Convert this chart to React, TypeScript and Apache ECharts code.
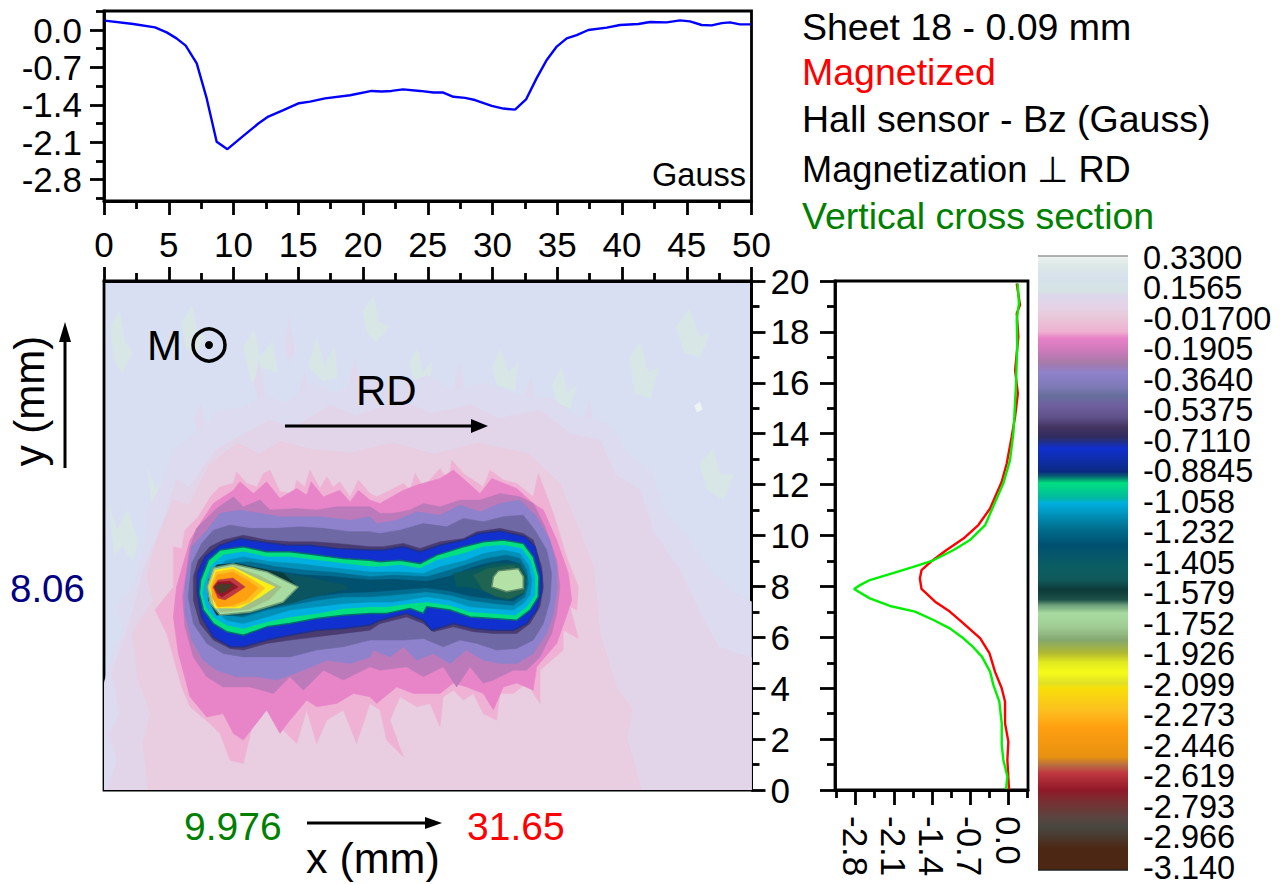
import React, { useEffect, useRef } from "react";
import * as echarts from "echarts";

const FONT = "'Liberation Sans', Arial, sans-serif";

const profileX: [number, number][] = [[0.06,0.175],[2.26,0.112],[3.94,0.05],[4.84,-0.044],[5.6,-0.156],[6.31,-0.293],[7.16,-0.624],[7.93,-1.28],[8.7,-2.09],[9.53,-2.23],[10.76,-1.98],[11.92,-1.75],[12.69,-1.62],[13.85,-1.5],[15.06,-1.37],[15.91,-1.34],[17.07,-1.28],[19,-1.22],[20.67,-1.14],[21.45,-1.15],[22.2,-1.14],[23.1,-1.11],[24.4,-1.14],[25.43,-1.17],[26.2,-1.17],[26.98,-1.25],[27.88,-1.27],[28.65,-1.31],[29.94,-1.42],[30.84,-1.47],[31.74,-1.49],[32.59,-1.3],[33.41,-0.9],[34.19,-0.56],[34.96,-0.31],[35.73,-0.156],[36.5,-0.094],[37.4,0],[38.82,0.044],[39.85,0.094],[41.26,0.112],[42.16,0.15],[43.45,0.144],[44.48,0.18],[45.25,0.162],[46.15,0.094],[46.93,0.087],[47.7,0.13],[48.34,0.144],[49.1,0.106],[49.94,0.106]];

const crossGreen: [number, number][] = [[0.178,19.9],[0.2,19.12],[0.16,18.46],[0.17,17.55],[0.147,15.98],[0.116,14.67],[0.098,14.01],[0.037,12.96],[-0.086,12.05],[-0.3,11],[-0.42,10.41],[-0.7,9.82],[-1,9.43],[-1.4,9],[-1.74,8.77],[-2.1,8.53],[-2.54,8.25],[-2.72,8.05],[-2.83,7.9],[-2.54,7.53],[-2.17,7.23],[-1.71,7.01],[-1.37,6.68],[-1.07,6.35],[-0.82,5.96],[-0.64,5.61],[-0.48,5.24],[-0.33,4.65],[-0.27,4.13],[-0.16,3.47],[-0.116,2.62],[-0.116,1.77],[-0.086,1.18],[-0.012,0.53],[-0.037,0.03]];

const crossRed: [number, number][] = [[0.16,19.9],[0.22,19.05],[0.16,18.73],[0.19,17.8],[0.13,16.5],[0.18,15.58],[0.13,14.67],[0.067,13.88],[-0.024,12.83],[-0.116,12.11],[-0.33,11.06],[-0.545,10.41],[-0.82,9.88],[-1.13,9.43],[-1.4,9],[-1.59,8.64],[-1.62,8.31],[-1.59,7.9],[-1.34,7.4],[-1.07,7.01],[-0.82,6.55],[-0.51,5.96],[-0.34,5.37],[-0.24,4.65],[-0.116,4],[-0.055,3.47],[-0.055,2.62],[0.006,1.9],[-0.012,1.18],[0.018,0.03]];

const colorbarLabels = ["0.3300","0.1565","-0.01700","-0.1905","-0.3640","-0.5375","-0.7110","-0.8845","-1.058","-1.232","-1.405","-1.579","-1.752","-1.926","-2.099","-2.273","-2.446","-2.619","-2.793","-2.966","-3.140"];

const colorbarStops = [0.342,0.29,0.216,0.148,0.12,0.051,-0.006,-0.091,-0.125,-0.205,-0.262,-0.29,-0.324,-0.41,-0.449,-0.506,-0.58,-0.631,-0.688,-0.717,-0.751,-0.887,-0.916,-0.95,-1.035,-1.064,-1.132,-1.206,-1.303,-1.428,-1.502,-1.559,-1.616,-1.644,-1.69,-1.769,-1.843,-1.917,-1.968,-2.031,-2.088,-2.116,-2.241,-2.338,-2.509,-2.554,-2.6,-2.697,-2.753,-2.85,-2.907,-2.981,-3.027,-3.152];
const colorbarColors = ["#EDF3F0","#DCE8E6","#D6E1EC","#D5E4E4","#DCD8EC","#E6D2E6","#E8C8D8","#EEAFD0","#E880C8","#C879B8","#A87AA8","#9C7CB8","#8E82CC","#7C78B4","#66709C","#7060A0","#5E5088","#433460","#302C60","#20308C","#1030D0","#0A2A80","#066C70","#00E080","#00B8A0","#00B0E0","#0090B8","#007090","#005070","#0A5E62","#10585A","#0C3A38","#1E5448","#6A9C78","#A8DCA0","#A0CC94","#84A870","#B0B830","#E0E820","#F8FC18","#E0E028","#F8E008","#FCC020","#FFA010","#E89010","#B87040","#C03840","#901828","#7C2C30","#5C4440","#484840","#4C3428","#4C2814","#4C2814"];

const hazeOuter = [[0,4.2],[0.8,5.6],[1.5,6.2],[1,7.2],[2.4,8.2],[3.2,9.6],[3.4,11],[4.6,12.2],[5.4,13.4],[7.5,14.2],[8.8,14.9],[10.5,15],[12.5,15.5],[14,15.2],[16,16],[18,15.6],[20,16.2],[22.5,15.8],[25,16.3],[27,15.7],[29.5,16],[32,15.5],[34.5,15.4],[36.5,14.7],[39,14.4],[40.5,13.2],[42.3,12.5],[43.2,11],[45,10],[46.5,8.8],[48.5,7.8],[50,7.4],[50,0],[0,0]];
const haze = [[0.3,0],[1,1.2],[0.4,2.2],[1.2,3],[0.6,4.6],[2,6.6],[3,8.6],[4.6,10.6],[5.6,12.2],[6.6,11.9],[8.6,13.36],[10.5,13.9],[12.8,14.54],[14.5,14.2],[17.5,15.13],[19.5,14.7],[22.9,15.32],[25.2,14.8],[28.3,15.13],[30.5,14.6],[33.7,14.93],[36,14],[38.3,13.75],[39.5,12.4],[41.4,11.79],[42.4,10.2],[44.5,8.6],[46,7],[47.5,5.6],[50,5.2],[50,0]];
const pale = [[5.3,11.39],[6.6,11.2],[8.2,12.85],[10.3,13.63],[12,13.2],[13.6,13.7],[15.9,13.4],[19,13.25],[22.3,13.63],[25.5,13.2],[28.8,13.63],[32.7,13.24],[35.2,12.06],[36.8,10.1],[37.8,8.76],[38.3,6.17],[39.6,4],[40.8,3.2],[40.4,2],[41.5,0],[3.4,0],[3,1.8],[3.6,3],[2.6,4.4],[2.2,6.17],[3.8,7.47],[3.3,8.4],[3.8,9.43]];
const pinkFringe = [[5.35,9.56],[6,9.49],[6.25,10.21],[7.28,10.74],[8.31,11.59],[8.96,11.91],[9.99,12.05],[10.24,12.5],[11,12.05],[11.8,11.91],[12.3,12.44],[12.82,12.57],[13.59,11.72],[14.62,11.65],[14.88,12.18],[15.5,11.91],[15.9,12.57],[16.68,11.85],[17.2,12.31],[17.7,11.91],[18.2,12.11],[19,11.52],[19.64,12.18],[20.54,11.65],[21.06,11.52],[22.09,11.78],[23.12,12.05],[23.63,11.78],[24.02,12.44],[24.66,11.91],[25.95,12.63],[26.59,12.18],[26.85,12.96],[27.75,12.44],[29.29,11.91],[29.81,12.57],[30.84,12.18],[31.87,12.05],[33.15,11.52],[33.54,12.44],[34.7,10.87],[35.73,9.16],[36.63,7.98],[36.5,7.07],[35.99,7.2],[36.63,5.95],[35.47,6.28],[35.47,5.5],[33.67,4.71],[33.67,3.4],[32.64,4.2],[31.61,3.79],[30.58,3.79],[30.32,2.74],[29.29,3],[28.52,3.79],[27.75,3.53],[26.98,3.92],[26.2,3.66],[25.95,2.48],[25.18,3.4],[24.15,3.27],[22.86,3.66],[22.09,2.74],[23.12,1.3],[21.83,1.96],[21.31,3.14],[20.54,3.4],[19.5,1.83],[18.48,3.14],[17.2,2.74],[16.42,1.83],[15.65,3.14],[14.88,1.83],[13.85,2.35],[13.08,3.27],[11.8,3.27],[10.76,1.04],[9.73,1.17],[8.96,2.22],[8.18,2.61],[6.64,3.27],[6,4.05],[4.84,6.15],[3.94,7.07],[5.35,7.98]];
const pinkBright = [[6.64,9.82],[7.41,10.47],[8.44,11.26],[9.99,11.78],[10.5,12.11],[11.53,11.65],[12.56,12.11],[13.59,11.46],[14.88,11.85],[15.65,11.59],[16,12.11],[16.94,11.52],[18.2,11.78],[19,11.32],[19.64,11.78],[20.54,11.39],[21.31,11.26],[23.12,11.78],[24.15,11.98],[25.95,12.24],[26.98,12.57],[29.04,11.65],[29.94,12.24],[31.87,11.85],[33.15,11.26],[33.93,11],[34.96,9.82],[35.86,8.51],[36.12,7.46],[35.6,6.67],[34.96,5.76],[33.41,4.84],[33.15,3.92],[31.87,4.2],[30.84,4.05],[30.07,3.14],[29.29,3.79],[28,4.05],[26.98,4.2],[25.95,3.79],[25.18,3.79],[23.89,3.79],[22.6,4.05],[21.06,3.4],[20.54,3.66],[19.27,3.79],[17.97,3.4],[16.42,3.27],[15.65,3.53],[14.36,2.74],[13.59,2.22],[12.56,3.14],[10.76,1.96],[9.99,2.22],[9.2,3],[7.93,2.87],[6.64,3.66],[5.74,5.36],[5.35,6.8],[5.6,7.98]];
const mauve = [[6.07,7.59],[6.64,9.56],[7.15,10.28],[8.7,11.06],[9.99,11.52],[10.76,11.13],[12.05,11.39],[12.82,11],[14.88,11.06],[16.42,11],[17.97,11.13],[20.54,11.13],[21.31,10.87],[22.34,10.87],[23.63,11],[24.66,11.26],[25.95,11.13],[27.49,11.39],[29.04,11.39],[30.58,11.65],[32.12,11.52],[33.15,11.26],[34.06,10.34],[34.96,9.03],[35.21,7.98],[34.96,6.94],[34.57,6.15],[33.67,5.23],[32.64,4.71],[31.61,4.71],[30.07,4.32],[29.29,4.2],[28.26,4.84],[27.23,4.05],[26.2,4.84],[24.66,4.45],[23.37,4.84],[21.31,4.71],[20.54,4.84],[18.48,4.32],[16.94,4.71],[15.39,3.92],[14.36,4.45],[13.08,3.79],[11.27,4.05],[9.2,4.05],[7.93,4.45],[6.9,5.23],[6.25,6.41]];
const lavender = [[6.25,7.98],[6.77,9.56],[7.93,10.21],[8.96,10.87],[10.5,11],[12.05,10.87],[13.59,10.74],[15.13,10.74],[16.68,10.74],[19,10.6],[20.54,10.74],[21.06,10.47],[22.6,10.6],[24.15,10.93],[25.95,10.8],[27.49,11.19],[29.04,10.93],[30.58,11.26],[32.12,11.39],[33.41,10.74],[34.44,9.82],[34.96,8.77],[34.96,7.85],[34.7,6.94],[34.18,6.15],[33.15,5.36],[31.87,4.97],[30.58,4.97],[29.29,5.1],[28,5.5],[26.72,4.97],[25.43,5.36],[24.15,5.1],[23.12,5.63],[22.09,5.23],[20.8,5.5],[20.54,5.23],[19,4.97],[17.2,5.1],[15.39,4.71],[13.33,4.32],[11.8,4.45],[10.24,4.45],[8.7,4.71],[7.67,5.1],[6.77,5.89],[6.25,6.94]];
const slate = [[6.5,7.59],[6.77,8.9],[7.54,9.69],[8.44,10.21],[9.73,10.41],[11.27,10.28],[13.33,10.28],[15.13,10.34],[16.94,10.28],[19,10.15],[20.54,10.15],[21.31,10.08],[22.86,10.21],[24.66,10.47],[26.46,10.34],[27.75,10.67],[29.29,10.54],[30.84,10.74],[32.38,10.8],[33.28,10.21],[34.18,9.43],[34.57,8.51],[34.44,7.46],[33.93,6.54],[33.15,5.89],[31.87,5.56],[30.32,5.5],[28.78,5.76],[27.49,5.89],[26.2,5.63],[24.66,5.95],[23.12,5.89],[21.57,5.89],[20.54,5.89],[18.48,5.63],[16.42,5.5],[14.36,5.23],[12.3,5.23],[10.76,5.23],[9.2,5.36],[7.93,5.76],[6.9,6.54]];
const purple = [[6.9,7.46],[6.9,8.38],[7.28,9.03],[8.18,9.56],[9.2,9.82],[10.76,10.01],[12.56,9.82],[14.36,9.75],[16.16,9.75],[17.97,9.69],[20.54,9.56],[21.57,9.56],[23.12,9.69],[24.4,9.49],[25.95,9.75],[27.75,9.88],[28.78,10.15],[30.58,10.28],[32.38,10.08],[33.15,9.82],[33.8,8.77],[33.93,7.98],[33.67,7.2],[32.9,6.54],[31.87,6.15],[30.07,6.15],[28.52,6.22],[26.98,6.41],[25.43,6.22],[24.66,6.54],[23.37,6.8],[21.31,6.54],[20.54,6.28],[18.48,6.15],[16.42,6.02],[14.36,5.89],[12.56,5.76],[10.76,5.5],[9.73,5.56],[8.44,5.89],[7.41,6.54]];
const blue = [[7.2,7.72],[7.2,8.51],[7.8,9.16],[8.96,9.62],[10.5,9.88],[12.05,9.75],[14.1,9.62],[15.9,9.62],[17.97,9.49],[20.54,9.43],[21.57,9.43],[23.12,9.56],[24.4,9.36],[25.95,9.62],[27.75,9.82],[28.91,10.08],[30.58,10.18],[32.51,9.95],[33.28,9.56],[33.8,8.44],[33.8,7.79],[33.41,7.07],[32.64,6.54],[31.61,6.28],[30.07,6.28],[28.52,6.35],[26.98,6.54],[25.3,6.28],[24.66,6.67],[23.37,6.94],[21.31,6.67],[20.54,6.48],[18.48,6.35],[16.42,6.28],[14.36,6.08],[12.56,5.89],[10.76,5.63],[9.73,5.63],[8.44,6.02],[7.54,6.8]];
const green = [[7.36,7.72],[7.46,8.25],[8.06,9.03],[8.96,9.43],[10.76,9.56],[12.56,9.36],[14.36,9.36],[16.42,9.23],[18.48,9.1],[20.54,9.03],[21.31,8.97],[22.86,9.03],[24.4,8.9],[25.69,9.23],[27.75,9.56],[29.29,9.75],[30.84,9.82],[32.38,9.69],[33.15,9.16],[33.59,8.38],[33.54,7.59],[32.9,7.07],[31.87,6.67],[30.07,6.74],[28.26,6.8],[26.72,7.07],[24.92,7.2],[24.66,6.94],[23.63,7.13],[21.83,6.94],[20.54,6.94],[18.48,6.87],[16.42,6.74],[14.36,6.54],[12.56,6.41],[10.76,6.08],[9.47,6.22],[8.44,6.54],[7.67,7.07]];
const cyan = [[7.6,7.72],[7.75,8.12],[8.31,8.84],[9.2,9.23],[10.76,9.36],[12.56,9.16],[14.36,9.16],[16.42,9.03],[18.48,8.9],[20.54,8.77],[21.31,8.77],[22.86,8.84],[24.4,8.7],[25.69,9.03],[27.75,9.29],[29.29,9.56],[30.84,9.62],[32.25,9.49],[32.9,9.03],[33.28,8.38],[33.28,7.66],[32.64,7.2],[31.74,6.87],[30.07,6.94],[28.26,7],[26.72,7.26],[24.92,7.39],[23.63,7.33],[21.83,7.2],[20.54,7.2],[18.48,7.13],[16.42,6.94],[14.36,6.8],[12.56,6.61],[10.76,6.35],[9.47,6.48],[8.44,6.8],[7.88,7.2]];
const azure = [[8.06,7.46],[7.98,8.12],[8.57,8.7],[9.47,9.03],[10.76,9.16],[12.82,8.97],[14.88,8.9],[16.94,8.77],[20.54,8.57],[22.86,8.57],[24.66,8.51],[25.95,8.77],[28,9.03],[29.29,9.29],[30.84,9.43],[32.12,9.29],[32.77,8.84],[33.03,8.25],[32.9,7.66],[32.38,7.33],[31.61,7.07],[30.07,7.13],[28.26,7.2],[26.72,7.46],[24.92,7.59],[22.34,7.39],[20.54,7.39],[18.48,7.33],[16.42,7.2],[14.36,7.07],[12.56,6.8],[10.76,6.54],[9.47,6.67],[8.7,7]];
const teal = [[8.18,8.38],[8.7,8.7],[9.47,8.9],[11.27,8.97],[13.33,8.77],[15.39,8.64],[17.45,8.57],[20.54,8.38],[22.34,8.44],[24.92,8.38],[26.72,8.64],[28.26,8.9],[29.55,9.1],[31.1,9.23],[32.12,9.1],[32.64,8.64],[32.77,8.12],[32.51,7.59],[31.61,7.26],[30.07,7.33],[28.26,7.46],[26.72,7.66],[24.92,7.79],[22.34,7.66],[20.54,7.59],[18.48,7.59],[16.42,7.46],[14.36,7.26],[12.56,7.07],[10.76,6.8],[9.47,6.87],[8.7,7.13],[8.18,7.59]];
const deepTeal = [[8.3,8.2],[9,8.72],[10.2,8.8],[11.6,8.73],[13.33,8.6],[15.4,8.45],[17.4,8.4],[20.5,8.25],[22.3,8.28],[24.9,8.2],[26.7,8.4],[28.3,8.72],[29.5,8.9],[31.1,9.05],[32,8.9],[32.5,8.5],[32.6,8.1],[32.4,7.7],[31.6,7.42],[30.1,7.5],[28.3,7.62],[26.7,7.82],[24.9,7.95],[22.3,7.85],[20.5,7.78],[18.5,7.75],[16.4,7.62],[14.4,7.42],[12.6,7.25],[10.8,7],[9.5,7],[8.7,7.3],[8.3,7.7]];
const leftTeal = [[8.06,8.25],[8.7,8.84],[10.24,8.9],[12.05,8.7],[13.85,8.51],[15.65,8.38],[17.2,8.2],[18.6,8.05],[18.9,7.9],[17.2,7.72],[15.9,7.56],[14.36,7.33],[12.56,7.13],[10.76,6.87],[9.2,6.87],[8.31,7.33]];
const rightTeal = [[26.98,8.51],[28.52,8.64],[30.07,8.9],[32.12,8.9],[32.64,8.38],[32.38,7.72],[31.1,7.46],[29.29,7.85],[28,7.98],[27.23,7.98]];
const leftDark = [[8.06,8.25],[8.7,8.84],[10.24,8.9],[12.05,8.7],[13.85,8.51],[15,7.98],[13.59,7.39],[11.8,7.13],[9.99,6.94],[8.7,6.87],[8.06,7.46]];
const rightMid = [[28.52,8.44],[29.68,8.7],[31.61,8.84],[32.51,8.38],[32.51,7.79],[31.35,7.52],[30.32,7.59],[29.29,7.85]];
const rightPale = [[30.07,8.38],[30.45,8.61],[32,8.7],[32.38,8.38],[32.38,7.92],[31.1,7.79],[29.94,7.98]];
const leftPale = [[7.95,7.98],[8.42,8.72],[9.96,8.88],[12.59,8.57],[14.98,7.98],[13.82,7.39],[11.27,6.99],[8.96,6.88],[8.19,7.35]];
const leftOlive = [[8.05,7.98],[8.5,8.66],[10,8.78],[12,8.42],[13.7,7.98],[12.8,7.5],[11.2,7.1],[9,6.98],[8.3,7.4]];
const yellow = [[8.11,7.98],[8.57,8.64],[9.96,8.76],[11.5,8.37],[13.2,7.98],[12.05,7.58],[10.5,7.15],[8.57,7.15]];
const gold = [[8.19,7.98],[8.65,8.57],[10,8.68],[11.4,8.29],[12.43,7.94],[11.27,7.39],[10.1,7.19],[8.73,7.19]];
const orange = [[8.34,7.98],[8.73,8.45],[9.96,8.57],[11.27,8.17],[11.9,7.94],[11,7.47],[10,7.27],[8.8,7.19],[8.34,7.58]];
const red = [[8.42,7.98],[8.8,8.25],[9.96,8.33],[10.9,7.98],[9.96,7.66],[9.34,7.47],[8.8,7.54]];
const darkRed = [[8.49,7.98],[8.8,8.17],[9.73,8.2],[10.35,7.98],[9.57,7.74],[9.1,7.58],[8.73,7.74]];
const core = [[8.57,7.98],[8.96,8.1],[9.96,8.06],[9.34,7.78],[8.96,7.74]];

const fleckGreen = [
  [[0.4,11.2],[1,10.2],[1.8,11],[2.6,9.8],[2.2,9],[1.4,9.6],[0.8,9.2]],
  [[3.4,12.6],[4,11.8],[4.8,12.3],[5,11],[4.2,11.3],[3.7,10.9]],
  [[10.8,17.4],[11.6,18.1],[12,17],[13,17.6],[13.4,16.4],[12.2,16.6],[11.4,16]],
  [[15.8,16.6],[16.4,17.8],[17,16.7],[17.8,17.4],[18,16.2],[16.9,16.1]],
  [[23.6,16.8],[24.2,17.4],[24.6,16.4],[25.3,16.8],[25.2,15.9],[24,16]],
  [[30,16.6],[30.6,17.3],[31.2,16.4],[32,16.8],[31.7,15.7],[30.4,15.9]],
  [[34.6,15.9],[35.3,16.6],[35.8,15.6],[36.5,15.9],[36,15],[35,15.2]],
  [[38.5,12.2],[39.3,12.6],[39.6,11.6],[40.4,11.4],[39.6,10.8],[38.7,11]],
  [[40.6,17],[41.4,17.6],[42,16.4],[42.8,16.6],[42.2,15.4],[41,15.6]],
  [[44.2,18.2],[45.2,18.9],[46,17.8],[46.8,18],[46,17],[44.8,17.2]],
  [[46,12.8],[47,13.4],[47.6,12.4],[48.6,12.4],[47.8,11.4],[46.6,11.8]],
  [[0.5,18.2],[1.2,18.8],[1.6,17.6],[2.2,17.2],[1.4,16.4],[0.8,16.9]],
  [[6,18.4],[6.8,19],[7.2,18],[7.8,17.8],[7,17],[6.3,17.4]],
  [[20,18.8],[20.8,19.4],[21.2,18.4],[22,18.2],[21,17.6],[20.3,18]],
];
const fleckPink = [
  [[11.6,16],[12,16.9],[12.4,15.6],[12.1,14.9]],[[15,15.4],[15.5,16.4],[16,15],[15.5,14.5]],[[19,16.2],[19.4,17],[19.8,15.6],[19.3,15]],
  [[27,15.9],[27.5,16.8],[27.9,15.4],[27.4,14.8]],[[32.4,15.4],[33,16.2],[33.3,14.9],[32.8,14.4]],[[37,14.5],[37.5,15.3],[37.8,14.1],[37.3,13.7]],
  [[7,14.6],[7.5,15.2],[7.9,14],[7.4,13.5]],[[39,9.8],[39.6,10.7],[40.3,9.2],[39.5,8.6]],[[14,17.4],[14.3,18.6],[14.7,17.2],[14.3,16.8]],
];
const whiteSpeck = [[45.6,15.1],[46,15.25],[46.2,14.95],[45.8,14.85]];

const contours: any[] = [
  ...fleckGreen.map((points) => ({ points, fill: "#D8E6E6" })),
  ...fleckPink.map((points) => ({ points, fill: "#E0D8EC" })),
  { points: whiteSpeck, fill: "#EEF3F3" },
  { points: hazeOuter, fill: "#DDDBEF" }, { points: haze, fill: "#E2D5EA" }, { points: pale, fill: "#E9CDE1" },
  { points: pinkFringe, fill: "#EFB2D4" }, { points: pinkBright, fill: "#E884C8" },
  { points: mauve, fill: "#BC7ABA" }, { points: lavender, fill: "#8E82CC" }, { points: slate, fill: "#6E68A4" }, { points: purple, fill: "#4A3C70" },
  { points: blue, fill: "#1030D0", stroke: "#20308C" }, { points: green, fill: "#00E080", stroke: "#066C70" }, { points: cyan, fill: "#00B0E0" },
  { points: azure, fill: "#0090B8" }, { points: teal, fill: "#006C90" }, { points: deepTeal, fill: "#005070" }, { points: leftTeal, fill: "#0A5560" },
  { points: rightTeal, fill: "#0A5A5C" }, { points: leftDark, fill: "#0C3A38" }, { points: rightMid, fill: "#1E6450" }, { points: rightPale, fill: "#B4E2A6", stroke: "#5E8A68" },
  { points: leftPale, fill: "#A8DCA0", stroke: "#6A9C78" }, { points: leftOlive, fill: "#A0C088" }, { points: yellow, fill: "#F8F018" }, { points: gold, fill: "#FCC020" },
  { points: orange, fill: "#FFA010" }, { points: red, fill: "#C03840" }, { points: darkRed, fill: "#901828" }, { points: core, fill: "#4A3A28" },
];

const topMajor = [0, -0.7, -1.4, -2.1, -2.8];
const topMinor = [0.35, -0.35, -1.05, -1.75, -2.45, -3.15];
const sideMajor = [0, -0.7, -1.4, -2.1, -2.8];
const sideMinor = [0.35, -0.35, -1.05, -1.75, -2.45, -3.15];

const labelStyle = { color: "#000", fontFamily: FONT, fontSize: 35 };
const line = (w = 2.8) => ({ show: true, onZero: false, lineStyle: { color: "#000", width: w } });
const noLine = { show: false, onZero: false };
const noAxis = { axisLine: noLine, axisTick: { show: false }, axisLabel: { show: false }, splitLine: { show: false } };

function arrow(x1: number, y1: number, x2: number, y2: number, w: number, h: number) {
  const dx = Math.sign(x2 - x1), dy = Math.sign(y2 - y1);
  return [
    { type: "line", shape: { x1, y1, x2: x2 - dx * w, y2: y2 - dy * w }, style: { stroke: "#000", lineWidth: 3 }, z: 20 },
    {
      type: "polygon",
      shape: { points: [[x2, y2], [x2 - dx * w - dy * h, y2 - dy * w - dx * h], [x2 - dx * w + dy * h, y2 - dy * w + dx * h]] },
      style: { fill: "#000" }, z: 20,
    },
  ];
}
function label(text: string, x: number, y: number, size: number, fill = "#000", extra: any = {}) {
  return {
    type: "text", x, y, z: 20, ...extra,
    style: { text, fill, font: `${size}px ${FONT}`, textAlign: extra.textAlign || "left", textVerticalAlign: "middle" },
  };
}

export default function App() {
  const ref = useRef<HTMLDivElement>(null);
  useEffect(() => {
    const chart = echarts.init(ref.current!, undefined, { renderer: "svg" });
    const colorbarValues = colorbarLabels.map(Number);
    const colorbarAxis = (values: number[]) => ({
      gridIndex: 3, type: "value", min: -3.14, max: 0.33, position: "right",
      axisLine: noLine, axisTick: { show: false }, splitLine: { show: false },
      axisLabel: {
        color: "#000", fontFamily: FONT, fontSize: 32.5, lineHeight: 28, margin: 15, customValues: values,
        showMinLabel: true, showMaxLabel: true, hideOverlap: false,
        formatter: (v: number) => colorbarLabels[colorbarValues.indexOf(v)],
      },
    });
    chart.setOption({
      animation: false,
      backgroundColor: "#fff",
      grid: [
        { left: 104, top: 11, width: 647.5, height: 190, show: true, borderColor: "#000", borderWidth: 2.8, backgroundColor: "transparent" },
        { left: 104, top: 281, width: 647.5, height: 509, show: true, borderColor: "#000", borderWidth: 2.8, backgroundColor: "#D8DFF2" },
        { left: 835, top: 281, width: 193, height: 509, show: true, borderColor: "#000", borderWidth: 2.8, backgroundColor: "transparent" },
        { left: 1038, top: 258, width: 90, height: 610, show: false },
      ],
      xAxis: [
        {
          gridIndex: 0, type: "value", min: 0, max: 50, interval: 5, position: "bottom",
          axisLine: line(), axisTick: { show: true, length: 14, lineStyle: { color: "#000", width: 2.8 } },
          minorTick: { show: true, splitNumber: 2, length: 8, lineStyle: { color: "#000", width: 2.8 } },
          axisLabel: { ...labelStyle, margin: 26 }, splitLine: { show: false }, minorSplitLine: { show: false },
        },
        {
          gridIndex: 1, type: "value", min: 0, max: 50, interval: 5, position: "top",
          axisLine: line(), axisTick: { show: true, length: 14, lineStyle: { color: "#000", width: 2.8 } },
          minorTick: { show: true, splitNumber: 2, length: 8, lineStyle: { color: "#000", width: 2.8 } },
          axisLabel: { show: false }, splitLine: { show: false },
        },
        {
          gridIndex: 2, type: "value", min: -3.18, max: 0.367, position: "bottom",
          axisLine: line(), axisTick: { show: true, length: 15, customValues: sideMajor, lineStyle: { color: "#000", width: 2.8 } },
          axisLabel: { ...labelStyle, margin: 26, rotate: -90, customValues: sideMajor, formatter: (v: number) => v.toFixed(1) },
          splitLine: { show: false },
        },
        {
          gridIndex: 2, type: "value", min: -3.18, max: 0.367, position: "bottom",
          axisLine: noLine, axisTick: { show: true, length: 8, customValues: sideMinor, lineStyle: { color: "#000", width: 2.8 } },
          axisLabel: { show: false }, splitLine: { show: false },
        },
        { gridIndex: 3, type: "value", min: 0, max: 1, ...noAxis },
      ],
      yAxis: [
        {
          gridIndex: 0, type: "value", min: -3.2, max: 0.356, position: "left",
          axisLine: line(), axisTick: { show: true, length: 14, customValues: topMajor, lineStyle: { color: "#000", width: 2.8 } },
          axisLabel: { ...labelStyle, margin: 22, customValues: topMajor, formatter: (v: number) => v.toFixed(1) },
          splitLine: { show: false },
        },
        {
          gridIndex: 0, type: "value", min: -3.2, max: 0.356, position: "left",
          axisLine: noLine, axisTick: { show: true, length: 8, customValues: topMinor, lineStyle: { color: "#000", width: 2.8 } },
          axisLabel: { show: false }, splitLine: { show: false },
        },
        {
          gridIndex: 1, type: "value", min: 0, max: 20, interval: 2, position: "right",
          axisLine: line(), axisTick: { show: true, length: 14, lineStyle: { color: "#000", width: 2.8 } },
          minorTick: { show: true, splitNumber: 2, length: 8, lineStyle: { color: "#000", width: 2.8 } },
          axisLabel: { ...labelStyle, margin: 19 }, splitLine: { show: false },
        },
        {
          gridIndex: 2, type: "value", min: 0, max: 20, interval: 2, position: "left",
          axisLine: line(), axisTick: { show: true, length: 15, lineStyle: { color: "#000", width: 2.8 } },
          minorTick: { show: true, splitNumber: 2, length: 8, lineStyle: { color: "#000", width: 2.8 } },
          axisLabel: { show: false }, splitLine: { show: false },
        },
        colorbarAxis(colorbarValues.filter((_, i) => i % 2 === 0)),
        colorbarAxis(colorbarValues.filter((_, i) => i % 2 === 1)),
      ],
      series: [
        {
          type: "custom", xAxisIndex: 1, yAxisIndex: 2, clip: true, silent: true, z: 1,
          data: contours.map((_, i) => [i]),
          renderItem: (params: any, api: any) => {
            const c = contours[params.dataIndex];
            return {
              type: "polygon",
              shape: { points: c.points.map((p: number[]) => api.coord(p)) },
              style: { fill: c.fill, stroke: c.stroke || c.fill, lineWidth: c.stroke ? 1.5 : 0.5, lineJoin: "round" },
            };
          },
        },
        {
          type: "custom", xAxisIndex: 4, yAxisIndex: 4, clip: false, silent: true,
          data: colorbarStops.slice(0, -1).map((_, i) => [i]),
          renderItem: (params: any, api: any) => {
            const i = params.dataIndex;
            const a = api.coord([0, colorbarStops[i]]);
            const b = api.coord([1, colorbarStops[i + 1]]);
            return {
              type: "rect",
              shape: { x: a[0], y: a[1], width: b[0] - a[0], height: b[1] - a[1] + 0.5 },
              style: {
                fill: new echarts.graphic.LinearGradient(0, 0, 0, 1, [
                  { offset: 0, color: colorbarColors[i] },
                  { offset: 1, color: colorbarColors[i + 1] },
                ]),
              },
            };
          },
        },
        { type: "line", xAxisIndex: 0, yAxisIndex: 0, data: profileX, showSymbol: false, lineStyle: { color: "#0000FF", width: 2.4 }, z: 5 },
        { type: "line", xAxisIndex: 2, yAxisIndex: 3, data: crossRed, showSymbol: false, lineStyle: { color: "#FF0000", width: 2.4 }, z: 5 },
        { type: "line", xAxisIndex: 2, yAxisIndex: 3, data: crossGreen, showSymbol: false, lineStyle: { color: "#00F000", width: 2.4 }, z: 6 },
      ],
      graphic: [
        label("Sheet 18 - 0.09 mm", 802, 27, 37.5),
        label("Magnetized", 802, 72, 37.5, "#FF0000"),
        label("Hall sensor - Bz (Gauss)", 802, 119, 37.5),
        label("Magnetization \u22A5 RD", 802, 169, 36.2),
        label("Vertical cross section", 802, 216, 37.5, "#008000"),
        label("Gauss", 746, 175, 32.5, "#000", { textAlign: "right" }),
        label("M", 147, 345, 42),
        label("RD", 356, 390, 42),
        label("8.06", 10, 588, 38.5, "#000080"),
        label("9.976", 184, 826, 39, "#008000"),
        label("31.65", 467, 826, 39, "#FF0000"),
        label("x (mm)", 306, 858, 43),
        label("y (mm)", 29, 401, 42, "#000", { rotation: Math.PI / 2, textAlign: "center" }),
        { type: "circle", shape: { cx: 209, cy: 345, r: 16 }, style: { fill: "none", stroke: "#000", lineWidth: 3.5 }, z: 20 },
        { type: "circle", shape: { cx: 209, cy: 345, r: 4 }, style: { fill: "#000" }, z: 20 },
        ...arrow(285, 426, 488, 426, 17, 7),
        ...arrow(307, 823, 442, 823, 17, 6),
        ...arrow(65, 468, 65, 322, 20, 6),
        { type: "line", shape: { x1: 1038, y1: 256, x2: 1128, y2: 256 }, style: { stroke: "#9a9a9a", lineWidth: 1.5 }, z: 20 },
        { type: "line", shape: { x1: 1038, y1: 870, x2: 1128, y2: 870 }, style: { stroke: "#222", lineWidth: 1.5 }, z: 20 },
      ],
    });
    return () => chart.dispose();
  }, []);
  return <div ref={ref} style={{ position: "absolute", left: 0, top: 0, width: 1287, height: 884 }} />;
}
